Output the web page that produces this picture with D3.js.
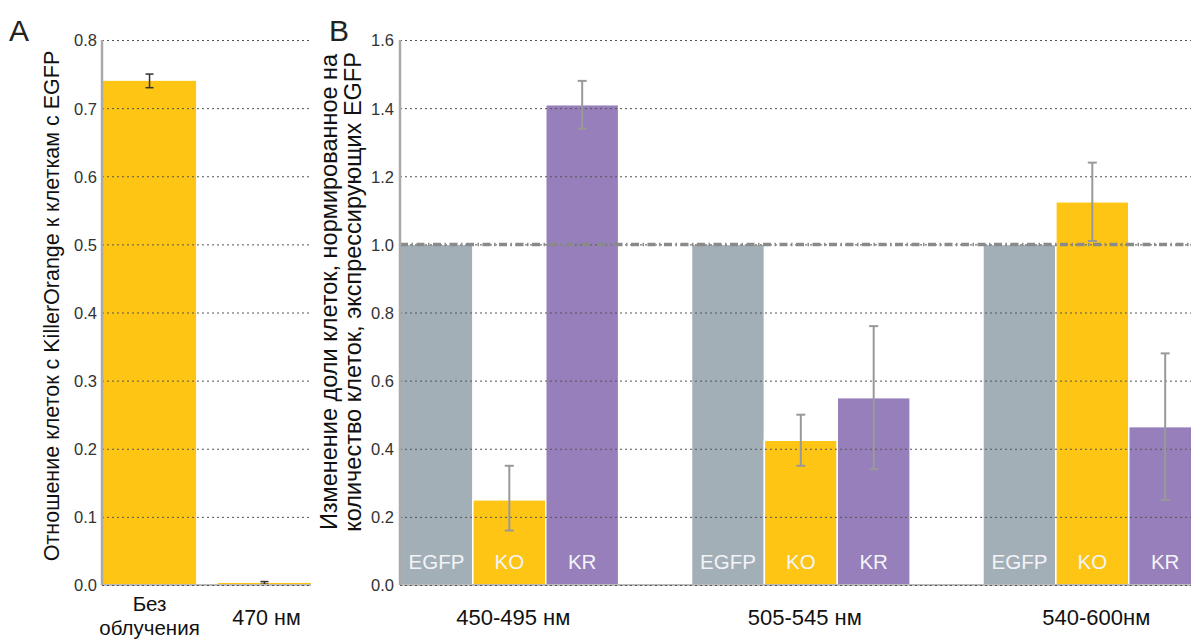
<!DOCTYPE html>
<html>
<head>
<meta charset="utf-8">
<script src="https://cdn.jsdelivr.net/npm/d3@7"></script>
<style>
  body { margin: 0; background: #fff; }
  svg { display: block; font-family: "Liberation Sans", Arial, sans-serif; }
  .grid line { stroke: #555; stroke-dasharray: 2,3; stroke-width: 1; }
  .grid path { display: none; }
  .ticks path { display: none; }
  .ticks text { fill: #333; font-size: 16.5px; }
</style>
</head>
<body>
<svg id="chart" width="1191" height="639"></svg>
<script>
// Panel A data
const catsA = ["Без облучения", "470 нм"];
const valsA = [0.74, 0.003];
const errA = [0.01, 0.002];
const ticksA = [0, 0.1, 0.2, 0.3, 0.4, 0.5, 0.6, 0.7, 0.8];

// Panel B data
const groupsB = ["450-495 нм", "505-545 нм", "540-600нм"];
const seriesB = ["EGFP", "KO", "KR"];
const egfpVals = [1, 1, 1];
const koVals = [0.25, 0.425, 1.125];
const krVals = [1.41, 0.55, 0.465];
const koLow = [0.16, 0.35, 1.01];
const koHigh = [0.35, 0.50, 1.24];
const krLow = [1.34, 0.34, 0.25];
const krHigh = [1.48, 0.76, 0.68];
const ticksB = [0, 0.2, 0.4, 0.6, 0.8, 1.0, 1.2, 1.4, 1.6];

const colors = { EGFP: "#a2afb7", KO: "#fec514", KR: "#967fba" };

const svg = d3.select("#chart");
const yTop = 40, yBottom = 585;

// ---------- Panel A ----------
const yA = d3.scaleLinear().domain([0, 0.8]).range([yBottom, yTop]);
const xA = d3.scaleBand().domain(catsA).range([103, 311]).paddingInner(0.19).paddingOuter(0);
const gA = svg.append("g");

gA.selectAll("rect.bar")
  .data(catsA)
  .enter().append("rect")
  .attr("class", "bar")
  .attr("x", d => xA(d))
  .attr("width", xA.bandwidth())
  .attr("y", (d, i) => yA(valsA[i]))
  .attr("height", (d, i) => yBottom - yA(valsA[i]))
  .attr("fill", colors.KO);

// error bars A
catsA.forEach((c, i) => {
  const cx = xA(c) + xA.bandwidth() / 2;
  const g = gA.append("g").attr("stroke", "#333").attr("stroke-width", 1.5);
  g.append("line").attr("x1", cx).attr("x2", cx).attr("y1", yA(valsA[i] - errA[i])).attr("y2", yA(valsA[i] + errA[i]));
  g.append("line").attr("x1", cx - 4).attr("x2", cx + 4).attr("y1", yA(valsA[i] - errA[i])).attr("y2", yA(valsA[i] - errA[i]));
  g.append("line").attr("x1", cx - 4).attr("x2", cx + 4).attr("y1", yA(valsA[i] + errA[i])).attr("y2", yA(valsA[i] + errA[i]));
});

// baseline + axis A
gA.append("line").attr("x1", 102).attr("x2", 311).attr("y1", yBottom).attr("y2", yBottom)
  .attr("stroke", "#bbb").attr("stroke-width", 2);
gA.append("g").attr("class", "grid").attr("transform", "translate(102,0)")
  .call(d3.axisLeft(yA).tickValues(ticksA).tickSize(-207).tickFormat(""));
gA.append("line").attr("x1", 102).attr("x2", 102).attr("y1", yTop).attr("y2", yBottom)
  .attr("stroke", "#aaa").attr("stroke-width", 2.5);
gA.append("g").attr("class", "ticks").attr("transform", "translate(97,0)")
  .call(d3.axisLeft(yA).tickValues(ticksA).tickSize(0).tickPadding(0).tickFormat(d3.format(".1f")))
  .selectAll("text").attr("dy", "0.36em");

// category labels A (first one wraps onto two lines)
catsA.forEach((d, i) => {
  const cx = xA(d) + xA.bandwidth() / 2;
  const lines = i === 0 ? d.split(" ") : [d];
  const ys = i === 0 ? [611, 634.5] : [625];
  lines.forEach((ln, k) => {
    gA.append("text")
      .attr("class", "cat")
      .attr("x", i === 0 ? cx : cx + 2)
      .attr("y", ys[k])
      .attr("text-anchor", "middle")
      .attr("font-size", i === 0 ? 20.5 : 21.5)
      .attr("fill", "#111")
      .text(ln);
  });
});

// title A
svg.append("text")
  .attr("transform", "translate(59,306) rotate(-90)")
  .attr("text-anchor", "middle")
  .attr("font-size", 21.5)
  .attr("fill", "#111")
  .text("Отношение клеток с KillerOrange к клеткам с EGFP");

svg.append("text").attr("x", 9).attr("y", 41).attr("font-size", 30).attr("fill", "#222").text("A");

// ---------- Panel B ----------
const yB = d3.scaleLinear().domain([0, 1.6]).range([yBottom, yTop]);
const x0 = d3.scaleBand().domain(groupsB).range([400, 1274.5]).padding(0);
const x1 = d3.scaleBand().domain(seriesB).range([0, x0.bandwidth() * 0.75]).padding(0);
const valsB = { EGFP: egfpVals, KO: koVals, KR: krVals };
const gB = svg.append("g");

const barsB = [];
groupsB.forEach((g, gi) => {
  seriesB.forEach(s => barsB.push({ group: g, gi, series: s, value: valsB[s][gi] }));
});

gB.selectAll("rect.bar")
  .data(barsB)
  .enter().append("rect")
  .attr("class", "bar")
  .attr("x", d => x0(d.group) + x1(d.series))
  .attr("width", x1.bandwidth())
  .attr("y", d => yB(d.value))
  .attr("height", d => yBottom - yB(d.value))
  .attr("fill", d => colors[d.series])
  .attr("stroke", "#fff")
  .attr("stroke-width", 1.5);

gB.selectAll("text.inbar")
  .data(barsB)
  .enter().append("text")
  .attr("class", "inbar")
  .attr("x", d => x0(d.group) + x1(d.series) + x1.bandwidth() / 2)
  .attr("y", 569)
  .attr("text-anchor", "middle")
  .attr("font-size", 20.5)
  .attr("fill", "#f4f4f8")
  .text(d => d.series);

// baseline + grid B
gB.append("line").attr("x1", 400).attr("x2", 1191).attr("y1", yBottom).attr("y2", yBottom)
  .attr("stroke", "#bbb").attr("stroke-width", 2);
gB.append("g").attr("class", "grid").attr("transform", "translate(400,0)")
  .call(d3.axisLeft(yB).tickValues(ticksB).tickSize(-800).tickFormat(""));

// reference line at 1.0
gB.append("line")
  .attr("x1", 400).attr("x2", 1191)
  .attr("y1", yB(1)).attr("y2", yB(1))
  .attr("stroke", "#8a8a8a").attr("stroke-width", 3.5)
  .attr("stroke-dasharray", "8,3.5,1.5,3.5");

// error bars B
const errB = [];
groupsB.forEach((g, gi) => {
  errB.push({ group: g, series: "KO", lo: koLow[gi], hi: koHigh[gi] });
  errB.push({ group: g, series: "KR", lo: krLow[gi], hi: krHigh[gi] });
});
errB.forEach(e => {
  const cx = x0(e.group) + x1(e.series) + x1.bandwidth() / 2;
  const g = gB.append("g").attr("stroke", "#999").attr("stroke-width", 2);
  g.append("line").attr("x1", cx).attr("x2", cx).attr("y1", yB(e.lo)).attr("y2", yB(e.hi));
  g.append("line").attr("x1", cx - 4.5).attr("x2", cx + 4.5).attr("y1", yB(e.lo)).attr("y2", yB(e.lo));
  g.append("line").attr("x1", cx - 4.5).attr("x2", cx + 4.5).attr("y1", yB(e.hi)).attr("y2", yB(e.hi));
});

gB.append("line").attr("x1", 400).attr("x2", 400).attr("y1", yTop).attr("y2", yBottom)
  .attr("stroke", "#aaa").attr("stroke-width", 2.5);
gB.append("g").attr("class", "ticks").attr("transform", "translate(394,0)")
  .call(d3.axisLeft(yB).tickValues(ticksB).tickSize(0).tickPadding(0).tickFormat(d3.format(".1f")))
  .selectAll("text").attr("dy", "0.36em");

// category labels B
gB.selectAll("text.cat")
  .data(groupsB)
  .enter().append("text")
  .attr("class", "cat")
  .attr("x", d => x0(d) + x1.range()[1] / 2 + 4)
  .attr("y", 625)
  .attr("text-anchor", "middle")
  .attr("font-size", 22)
  .attr("fill", "#111")
  .text(d => d);

// title B
const tB = svg.append("text")
  .attr("transform", "translate(0,292) rotate(-90)")
  .attr("text-anchor", "middle")
  .attr("font-size", 23.5)
  .attr("fill", "#111");
tB.append("tspan").attr("x", 0).attr("y", 337).text("Изменение доли клеток, нормированное на");
tB.append("tspan").attr("x", 0).attr("y", 361).text("количество клеток, экспрессирующих EGFP");

svg.append("text").attr("x", 329).attr("y", 41).attr("font-size", 30).attr("fill", "#222").text("B");
</script>
</body>
</html>
